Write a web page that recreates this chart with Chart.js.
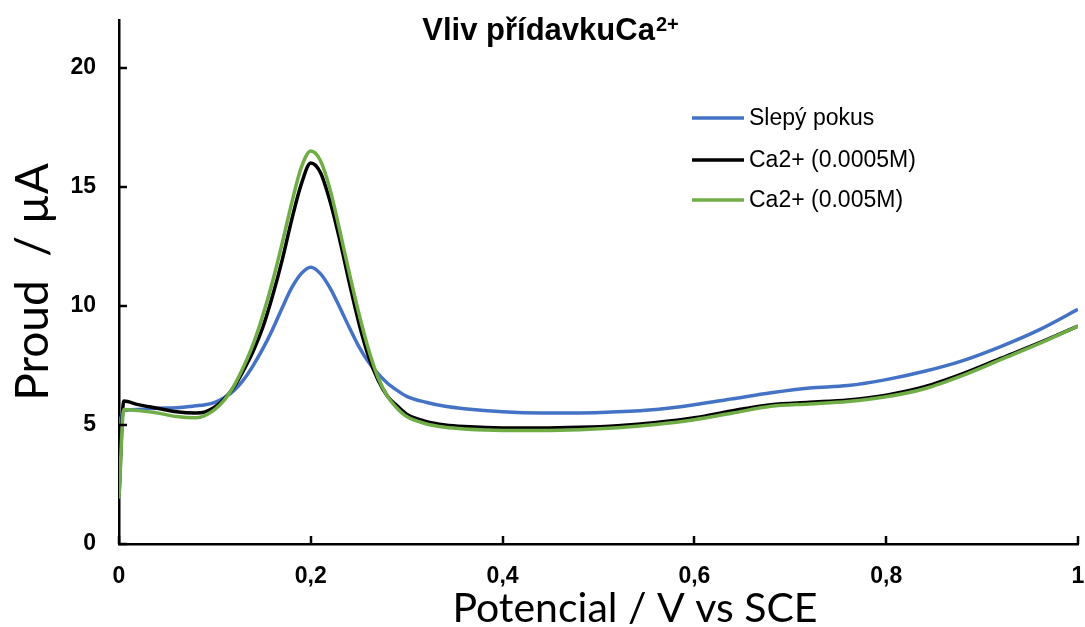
<!DOCTYPE html>
<html>
<head>
<meta charset="utf-8">
<script src="https://cdn.jsdelivr.net/npm/chart.js@4.4.1/dist/chart.umd.min.js"></script>
<style>
  html, body { margin: 0; padding: 0; background: #fff; }
  #wrap { width: 1085px; height: 627px; position: relative; }
</style>
</head>
<body>
<div id="wrap"><canvas id="c" width="1085" height="627"></canvas></div>
<script>
// Potential (V vs SCE) at which the currents were sampled
const potential = [0, 0.005, 0.02, 0.04, 0.06, 0.08, 0.09, 0.10, 0.11, 0.12, 0.13, 0.14, 0.15, 0.16, 0.17, 0.18, 0.19, 0.20,
  0.21, 0.22, 0.23, 0.24, 0.25, 0.26, 0.27, 0.28, 0.29, 0.30, 0.32, 0.34, 0.36, 0.40, 0.44, 0.48, 0.52, 0.56, 0.60,
  0.64, 0.68, 0.72, 0.76, 0.80, 0.84, 0.88, 0.92, 0.96, 1.00];

// Current (µA) – blank run
const blank = [5.0, 5.6, 5.65, 5.7, 5.72, 5.8, 5.85, 5.95, 6.15, 6.45, 6.9, 7.5, 8.2, 9.0, 9.9, 10.75, 11.35, 11.62,
  11.35, 10.75, 9.95, 9.1, 8.3, 7.65, 7.15, 6.75, 6.45, 6.2, 5.95, 5.78, 5.68, 5.55, 5.5, 5.5, 5.55, 5.65, 5.85,
  6.1, 6.35, 6.55, 6.65, 6.9, 7.25, 7.7, 8.3, 9.0, 9.85];

// Current (µA) – Ca2+ 0.0005 M
const ca0005 = [2.0, 6.0, 5.85, 5.7, 5.55, 5.5, 5.55, 5.75, 6.1, 6.6, 7.3, 8.1, 9.1, 10.4, 11.9, 13.6, 15.1, 16.0,
  15.6, 14.4, 12.8, 11.0, 9.3, 7.9, 6.9, 6.2, 5.8, 5.45, 5.15, 5.0, 4.93, 4.87, 4.87, 4.9, 4.97, 5.1, 5.3,
  5.6, 5.85, 5.95, 6.05, 6.25, 6.6, 7.15, 7.8, 8.45, 9.15];

// Current (µA) – Ca2+ 0.005 M
const ca005 = [1.9, 5.65, 5.6, 5.5, 5.35, 5.3, 5.4, 5.65, 6.05, 6.65, 7.45, 8.4, 9.6, 11.0, 12.6, 14.3, 15.8, 16.5,
  16.1, 14.9, 13.2, 11.4, 9.7, 8.2, 7.0, 6.2, 5.7, 5.35, 5.05, 4.9, 4.83, 4.77, 4.77, 4.8, 4.88, 5.02, 5.22,
  5.5, 5.78, 5.88, 5.98, 6.18, 6.52, 7.08, 7.75, 8.42, 9.15];

const seriesNames = ['Slepý pokus', 'Ca2+ (0.0005M)', 'Ca2+ (0.005M)'];
const seriesColors = ['#4472C4', '#000000', '#70AD47'];

const xTicks = [0, 0.2, 0.4, 0.6, 0.8, 1];
const xTickLabels = ['0', '0,2', '0,4', '0,6', '0,8', '1'];
const yTicks = [0, 5, 10, 15, 20];
const yTickLabels = ['0', '5', '10', '15', '20'];

const toPoints = (ys) => potential.map((x, i) => ({ x: x, y: ys[i] }));

const armFont = '"Liberation Sans", Arial, sans-serif';
const titleFont = 'Lato, "Open Sans", sans-serif';

// Short tick marks drawn inward from each axis
const innerTicks = {
  id: 'innerTicks',
  afterDraw(chart) {
    const { ctx, scales: { x, y } } = chart;
    ctx.save();
    ctx.strokeStyle = '#000';
    ctx.lineWidth = 2.5;
    ctx.beginPath();
    xTicks.forEach(v => {
      const px = Math.round(x.getPixelForValue(v));
      ctx.moveTo(px, y.bottom);
      ctx.lineTo(px, y.bottom - 8);
    });
    yTicks.forEach(v => {
      const py = Math.round(y.getPixelForValue(v));
      ctx.moveTo(x.left, py);
      ctx.lineTo(x.left + 8, py);
    });
    ctx.stroke();
    ctx.restore();
  }
};

// Chart heading with superscript charge, plus the potential axis caption
const heading = {
  id: 'heading',
  afterDraw(chart) {
    const ctx = chart.ctx;
    const main = 'Vliv přídavkuCa';
    const sup = '2+';
    ctx.save();
    ctx.fillStyle = '#000';
    ctx.textBaseline = 'alphabetic';
    ctx.font = 'bold 31px ' + armFont;
    const wMain = ctx.measureText(main).width;
    ctx.font = 'bold 20px ' + armFont;
    const wSup = ctx.measureText(sup).width;
    const start = 550 - (wMain + wSup) / 2;
    ctx.font = 'bold 31px ' + armFont;
    ctx.fillText(main, start, 40);
    ctx.font = 'bold 20px ' + armFont;
    ctx.fillText(sup, start + wMain + 1, 31);

    ctx.font = '41px ' + titleFont;
    ctx.textAlign = 'center';
    ctx.fillText('Potencial / V vs SCE', 635, 622);
    ctx.restore();
  }
};

// Legend placed inside the plot area
const insideLegend = {
  id: 'insideLegend',
  afterDraw(chart) {
    const ctx = chart.ctx;
    const rows = [118, 160, 200];
    ctx.save();
    ctx.font = '23px ' + armFont;
    ctx.textBaseline = 'middle';
    ctx.lineWidth = 3.5;
    seriesNames.forEach((name, i) => {
      ctx.strokeStyle = seriesColors[i];
      ctx.beginPath();
      ctx.moveTo(692, rows[i]);
      ctx.lineTo(744, rows[i]);
      ctx.stroke();
      ctx.fillStyle = '#000';
      ctx.fillText(name, 749, rows[i] + 1);
    });
    ctx.restore();
  }
};

const mkSet = (i, ys, order) => ({
  label: seriesNames[i],
  data: toPoints(ys),
  borderColor: seriesColors[i],
  backgroundColor: seriesColors[i],
  borderWidth: 3.5,
  pointRadius: 0,
  showLine: true,
  cubicInterpolationMode: 'monotone',
  order: order
});

new Chart(document.getElementById('c'), {
  type: 'scatter',
  data: {
    datasets: [mkSet(0, blank, 2), mkSet(1, ca0005, 1), mkSet(2, ca005, 0)]
  },
  options: {
    responsive: false,
    animation: false,
    layout: { padding: { top: 20, right: 7, left: 0, bottom: 0 } },
    plugins: { legend: { display: false }, tooltip: { enabled: false }, title: { display: false } },
    scales: {
      x: {
        type: 'linear',
        min: 0, max: 1,
        afterFit: (s) => { s.height = 83; s.paddingLeft = 0; s.paddingRight = 0; },
        afterBuildTicks: (s) => { s.ticks = xTicks.map(v => ({ value: v })); },
        grid: { display: false, drawTicks: false },
        border: { display: true, color: '#000', width: 2.5 },
        ticks: {
          padding: 19,
          color: '#000',
          font: { family: armFont, size: 23, weight: 'bold' },
          maxRotation: 0,
          callback: (v, i) => xTickLabels[i]
        }
      },
      y: {
        type: 'linear',
        min: 0, max: 22,
        afterFit: (s) => { s.width = 119; s.paddingTop = 0; s.paddingBottom = 0; },
        afterBuildTicks: (s) => { s.ticks = yTicks.map(v => ({ value: v })); },
        grid: { display: false, drawTicks: false },
        border: { display: true, color: '#000', width: 2.5 },
        ticks: {
          padding: 23,
          color: '#000',
          font: { family: armFont, size: 23, weight: 'bold' },
          callback: (v, i) => yTickLabels[i]
        },
        title: {
          display: true,
          text: 'Proud  / µA',
          color: '#000',
          font: { family: titleFont, size: 46, lineHeight: 1 },
          padding: { top: 10, bottom: 0 }
        }
      }
    }
  },
  plugins: [innerTicks, heading, insideLegend]
});
</script>
</body>
</html>
